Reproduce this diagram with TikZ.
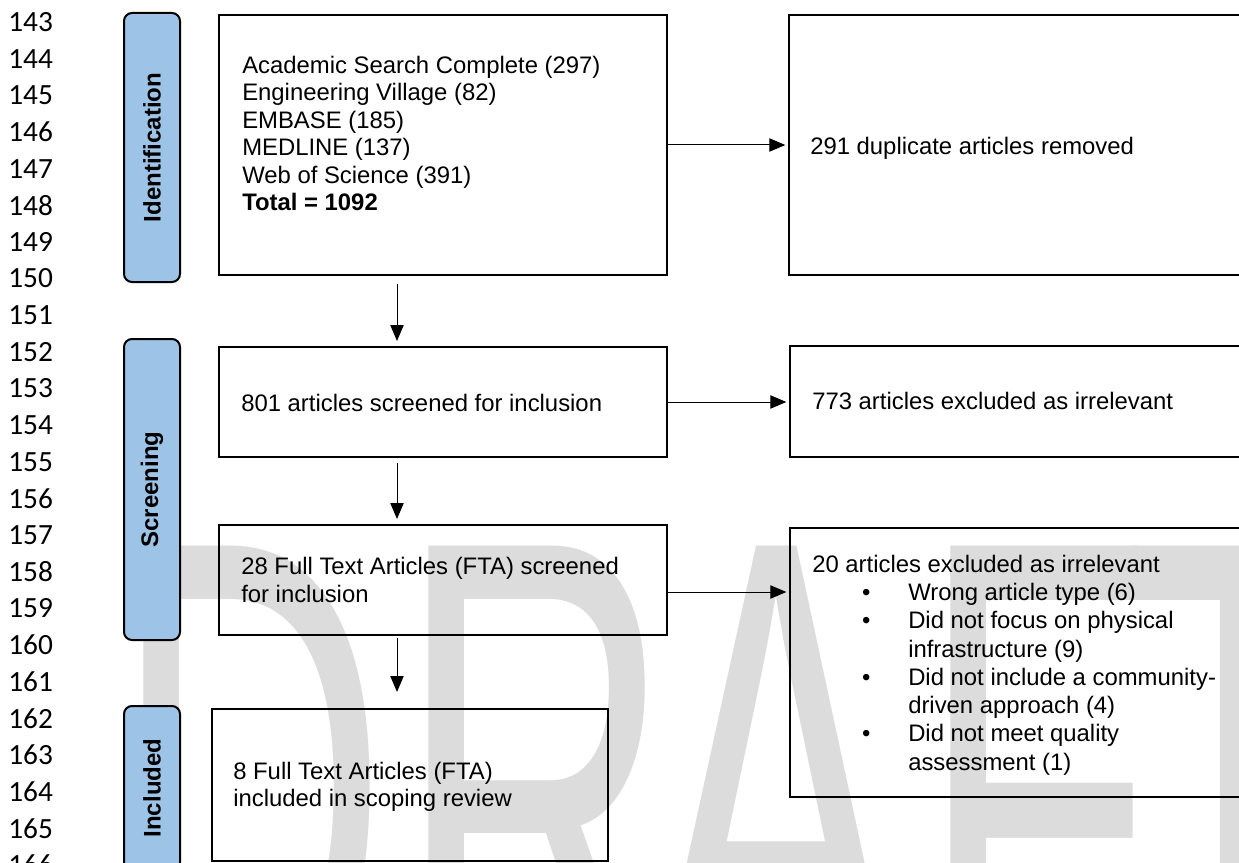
\documentclass[tikz,border=0pt]{standalone}
\usepackage{fontspec}
\usepackage{graphicx}
\setmainfont{Liberation Sans}
\newfontfamily\lnfont{Carlito}
\usetikzlibrary{arrows.meta,fit}
\definecolor{sideblue}{RGB}{157,195,230}
\definecolor{wmgray}{RGB}{220,220,220}
\begin{document}
\begin{tikzpicture}[x=0.75pt,y=-0.75pt,
  box/.style={draw=black,line width=1.5pt,rectangle,inner sep=0pt},
  side/.style={draw=black,fill=sideblue,line width=1.5pt,rounded corners=6pt,inner sep=0pt},
  lbl/.style={font=\fontsize{17.9pt}{21.2pt}\selectfont,align=left,inner sep=0pt,anchor=west},
  sidelbl/.style={font=\fontsize{18pt}{20pt}\selectfont\bfseries,rotate=90,inner sep=0pt},
  lnum/.style={font=\lnfont\fontsize{22pt}{24pt}\selectfont,anchor=west,inner sep=0pt},
  arr/.style={line width=0.75pt,-{Triangle[length=12pt,width=10pt]}},
  wm/.style={anchor=base west,inner sep=0pt,text=wmgray,font=\fontsize{286.5pt}{290pt}\selectfont}
]
\useasboundingbox (0,0) rectangle (1239,863);
\clip (0,0) rectangle (1239,863);
\fill[white] (0,0) rectangle (1239,863);

% watermark
\node[wm] (wmD) at (112,1037) {\scalebox{1}[1.87]{D}};
\node[wm] (wmR) at (397,1037) {\scalebox{1}[1.87]{R}};
\node[wm] (wmA) at (648,1037) {\scalebox{1}[1.87]{A}};
\node[wm] (wmF) at (919,1037) {\scalebox{1}[1.87]{F}};
\node[wm] (wmT) at (1121,1037) {\scalebox{1}[1.87]{T}};

% line numbers
\foreach \n in {143,...,166}
  \node[lnum] (ln\n) at (8,{22+36.65*(\n-143)}) {\n};

% side boxes
\node[side,fit={(124,13)(180,282)}] (sid) {};
\node[sidelbl] (sidl) at (sid.center) {Identification};
\node[side,fit={(124,339)(180,640)}] (sscr) {};
\node[sidelbl] (sscrl) at (sscr.center) {Screening};
\node[side,fit={(124,706)(180,870)}] (sinc) {};
\node[sidelbl] (sincl) at (sinc.center) {Included};

% main boxes
\node[box,fit={(219,15)(667,275)}] (b1) {};
\node[box,fit={(789,15)(1262,275)}] (dup) {};
\node[box,fit={(219,347)(667,457)}] (b2) {};
\node[box,fit={(790,346)(1262,457)}] (ex2) {};
\node[box,fit={(219,525)(667,635)}] (b3) {};
\node[box,fit={(790,528)(1262,797)}] (ex3) {};
\node[box,fit={(212,709)(608,861)}] (b4) {};

% texts
\node[lbl,font=\fontsize{17.9pt}{20.6pt}\selectfont] (t1) at (242,133.5) {Academic Search Complete (297)\\Engineering Village (82)\\EMBASE (185)\\MEDLINE (137)\\Web of Science (391)\\\textbf{Total = 1092}};
\node[lbl] (tdup) at (810,148) {291 duplicate articles removed};
\node[lbl] (t2) at (241,403) {801 articles screened for inclusion};
\node[lbl] (tex2) at (812,401) {773 articles excluded as irrelevant};
\node[lbl] (t3) at (241,580) {28 Full Text Articles (FTA) screened\\for inclusion};
\node[lbl] (tex3) at (812,665) {20 articles excluded as irrelevant\\
\hspace*{40.5pt}\makebox[0pt][c]{•}\hspace*{31.5pt}Wrong article type (6)\\
\hspace*{40.5pt}\makebox[0pt][c]{•}\hspace*{31.5pt}Did not focus on physical\\
\hspace*{72pt}infrastructure (9)\\
\hspace*{40.5pt}\makebox[0pt][c]{•}\hspace*{31.5pt}Did not include a community-\\
\hspace*{72pt}driven approach (4)\\
\hspace*{40.5pt}\makebox[0pt][c]{•}\hspace*{31.5pt}Did not meet quality\\
\hspace*{72pt}assessment (1)};
\node[lbl,font=\fontsize{17.9pt}{20.3pt}\selectfont] (t4) at (233,786.5) {8 Full Text Articles (FTA)\\included in scoping review};

% connectors
\coordinate (col) at (397,0);
\draw[arr,shorten <=6pt,shorten >=3.75pt] (b1.south -| col) -- (b2.north -| col);
\draw[arr,shorten <=3.75pt,shorten >=3.75pt] (b2.south -| col) -- (b3.north -| col);
\draw[arr,shorten <=1.5pt,shorten >=12pt] (b3.south -| col) -- (b4.north -| col);
\draw[arr,shorten >=2pt] (b1.east) -- (b1.east -| dup.west);
\draw[arr,shorten >=2pt] (b2.east) -- (b2.east -| ex2.west);
\coordinate (h3s) at ([yshift=-9pt]b3.east);
\draw[arr,shorten >=2pt] (h3s) -- (h3s -| ex3.west);
\end{tikzpicture}
\end{document}
